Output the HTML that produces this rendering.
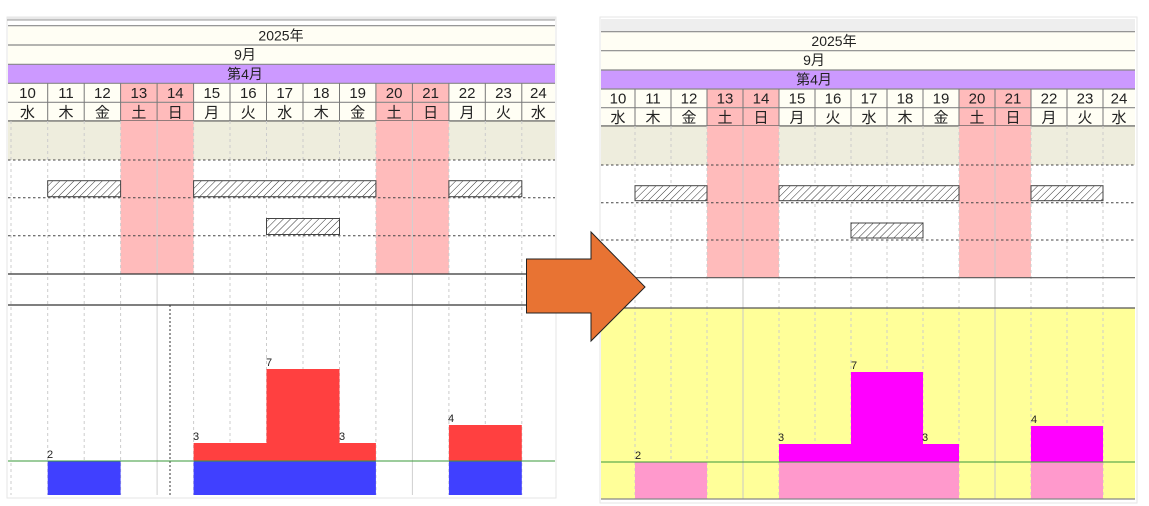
<!DOCTYPE html>
<html><head><meta charset="utf-8"><style>
html,body{margin:0;padding:0;background:#fff;width:1149px;height:506px;overflow:hidden}
svg{display:block}
text{font-family:"Liberation Sans","Noto Sans CJK JP",sans-serif;fill:#222}
</style></head><body>
<svg width="1149" height="506" viewBox="0 0 1149 506" xmlns="http://www.w3.org/2000/svg">
<defs>
<pattern id="h" width="5" height="5" patternUnits="userSpaceOnUse" patternTransform="rotate(45)">
<rect width="5" height="5" fill="#fff"/><line x1="0" y1="0" x2="0" y2="5" stroke="#333" stroke-width="1"/>
</pattern>
</defs>

<!-- ================= LEFT PANEL ================= -->
<rect x="7" y="17" width="549" height="481" fill="#fff" stroke="#e6e6e6"/>
<rect x="7" y="17" width="549" height="3" fill="#e8e8e8"/>
<line x1="7" y1="20" x2="555" y2="20" stroke="#999"/>
<rect x="8" y="25.7" width="547" height="19.3" fill="#fffef4"/>
<rect x="8" y="45" width="547" height="19.3" fill="#fffef4"/>
<rect x="8" y="64.3" width="547" height="19" fill="#cc99ff"/>
<rect x="8" y="83.3" width="547" height="37.7" fill="#fffef4"/>
<rect x="120.6" y="83.3" width="73" height="37.7" fill="#ffbbbb"/>
<rect x="375.9" y="83.3" width="73" height="37.7" fill="#ffbbbb"/>
<g stroke="#888" stroke-width="1.2">
<line x1="8" y1="25.7" x2="555" y2="25.7"/><line x1="8" y1="45" x2="555" y2="45"/>
<line x1="8" y1="64.3" x2="555" y2="64.3"/><line x1="8" y1="83.3" x2="555" y2="83.3"/>
<line x1="8" y1="102.3" x2="555" y2="102.3"/>
</g>
<line x1="8" y1="121" x2="555" y2="121" stroke="#555" stroke-width="1.3"/>
<g stroke="#777" stroke-width="1">
<line x1="47.7" y1="83.3" x2="47.7" y2="121"/><line x1="84.2" y1="83.3" x2="84.2" y2="121"/>
<line x1="120.6" y1="83.3" x2="120.6" y2="121"/><line x1="157.1" y1="83.3" x2="157.1" y2="121"/>
<line x1="193.6" y1="83.3" x2="193.6" y2="121"/><line x1="230" y1="83.3" x2="230" y2="121"/>
<line x1="266.5" y1="83.3" x2="266.5" y2="121"/><line x1="303" y1="83.3" x2="303" y2="121"/>
<line x1="339.5" y1="83.3" x2="339.5" y2="121"/><line x1="375.9" y1="83.3" x2="375.9" y2="121"/>
<line x1="412.4" y1="83.3" x2="412.4" y2="121"/><line x1="448.9" y1="83.3" x2="448.9" y2="121"/>
<line x1="485.3" y1="83.3" x2="485.3" y2="121"/><line x1="521.8" y1="83.3" x2="521.8" y2="121"/>
</g>
<g font-size="14" text-anchor="middle">
<text x="281" y="40.5">2025年</text><text x="245" y="59.5">9月</text><text x="245" y="79">第4月</text>
</g>
<g font-size="15" text-anchor="middle">
<text x="27.5" y="98">10</text><text x="66" y="98">11</text><text x="102.4" y="98">12</text><text x="138.9" y="98">13</text><text x="175.3" y="98">14</text><text x="211.8" y="98">15</text><text x="248.3" y="98">16</text><text x="284.7" y="98">17</text><text x="321.2" y="98">18</text><text x="357.7" y="98">19</text><text x="394.1" y="98">20</text><text x="430.6" y="98">21</text><text x="467.1" y="98">22</text><text x="503.5" y="98">23</text><text x="538.4" y="98">24</text>
<text x="27.5" y="117.5">水</text><text x="66" y="117.5">木</text><text x="102.4" y="117.5">金</text><text x="138.9" y="117.5">土</text><text x="175.3" y="117.5">日</text><text x="211.8" y="117.5">月</text><text x="248.3" y="117.5">火</text><text x="284.7" y="117.5">水</text><text x="321.2" y="117.5">木</text><text x="357.7" y="117.5">金</text><text x="394.1" y="117.5">土</text><text x="430.6" y="117.5">日</text><text x="467.1" y="117.5">月</text><text x="503.5" y="117.5">火</text><text x="538.4" y="117.5">水</text>
</g>
<rect x="8" y="121.5" width="547" height="38.5" fill="#eeeddd"/>
<rect x="120.6" y="121" width="73" height="153" fill="#ffbbbb"/>
<rect x="375.9" y="121" width="73" height="153" fill="#ffbbbb"/>
<g stroke="#ccc" stroke-dasharray="3,3">
<line x1="11" y1="121" x2="11" y2="495"/>
<line x1="47.7" y1="121" x2="47.7" y2="495"/><line x1="84.2" y1="121" x2="84.2" y2="495"/>
<line x1="120.6" y1="121" x2="120.6" y2="495"/><line x1="193.6" y1="121" x2="193.6" y2="495"/>
<line x1="230" y1="121" x2="230" y2="495"/><line x1="266.5" y1="121" x2="266.5" y2="495"/>
<line x1="303" y1="121" x2="303" y2="495"/><line x1="339.5" y1="121" x2="339.5" y2="495"/>
<line x1="375.9" y1="121" x2="375.9" y2="495"/><line x1="448.9" y1="121" x2="448.9" y2="495"/>
<line x1="485.3" y1="121" x2="485.3" y2="495"/><line x1="521.8" y1="121" x2="521.8" y2="495"/>
</g>
<g stroke="#d0d0d0"><line x1="157.1" y1="121" x2="157.1" y2="495"/><line x1="412.4" y1="121" x2="412.4" y2="495"/></g>
<g stroke="#444" stroke-dasharray="2.5,2.5">
<line x1="8" y1="160" x2="555" y2="160"/><line x1="8" y1="197.7" x2="555" y2="197.7"/><line x1="8" y1="235.7" x2="555" y2="235.7"/>
</g>
<g fill="url(#h)" stroke="#444">
<rect x="47.7" y="180.7" width="72.9" height="16"/><rect x="193.6" y="180.7" width="182.3" height="16"/>
<rect x="448.9" y="180.7" width="72.9" height="16"/><rect x="266.5" y="218.5" width="73" height="16"/>
</g>
<g stroke="#333" stroke-width="1.2"><line x1="8" y1="274" x2="555" y2="274"/><line x1="8" y1="305" x2="555" y2="305"/></g>
<line x1="170" y1="305" x2="170" y2="495" stroke="#333" stroke-dasharray="2,2"/>
<g fill="#ff4040">
<rect x="193.6" y="443" width="182.3" height="18"/><rect x="266.5" y="369" width="73" height="92"/><rect x="448.9" y="425" width="72.9" height="36"/>
</g>
<g fill="#4040ff">
<rect x="47.7" y="461" width="72.9" height="34"/><rect x="193.6" y="461" width="182.3" height="34"/><rect x="448.9" y="461" width="72.9" height="34"/>
</g>
<line x1="8" y1="461" x2="555" y2="461" stroke="#3a9a3a"/>
<g font-size="11"><text x="47" y="458">2</text><text x="193" y="440">3</text><text x="266" y="366">7</text><text x="339" y="440">3</text><text x="448" y="422">4</text></g>

<!-- ================= RIGHT PANEL ================= -->
<rect x="600" y="17" width="537" height="486" fill="#fff" stroke="#e6e6e6"/>
<rect x="601" y="19" width="534" height="12.7" fill="#eeeeee"/>
<rect x="601" y="31.7" width="534" height="19" fill="#fffef4"/>
<rect x="601" y="50.7" width="534" height="19.3" fill="#fffef4"/>
<rect x="601" y="70" width="534" height="19" fill="#cc99ff"/>
<rect x="601" y="89" width="534" height="37" fill="#fffef4"/>
<rect x="707" y="89" width="72" height="37" fill="#ffbbbb"/>
<rect x="959" y="89" width="72" height="37" fill="#ffbbbb"/>
<g stroke="#888" stroke-width="1.2">
<line x1="601" y1="31.7" x2="1135" y2="31.7"/><line x1="601" y1="50.7" x2="1135" y2="50.7"/>
<line x1="601" y1="70" x2="1135" y2="70"/><line x1="601" y1="89" x2="1135" y2="89"/>
<line x1="601" y1="107.7" x2="1135" y2="107.7"/>
</g>
<line x1="601" y1="126" x2="1135" y2="126" stroke="#555" stroke-width="1.3"/>
<g stroke="#777">
<line x1="635" y1="89" x2="635" y2="126"/><line x1="671" y1="89" x2="671" y2="126"/><line x1="707" y1="89" x2="707" y2="126"/>
<line x1="743" y1="89" x2="743" y2="126"/><line x1="779" y1="89" x2="779" y2="126"/><line x1="815" y1="89" x2="815" y2="126"/>
<line x1="851" y1="89" x2="851" y2="126"/><line x1="887" y1="89" x2="887" y2="126"/><line x1="923" y1="89" x2="923" y2="126"/>
<line x1="959" y1="89" x2="959" y2="126"/><line x1="995" y1="89" x2="995" y2="126"/><line x1="1031" y1="89" x2="1031" y2="126"/>
<line x1="1067" y1="89" x2="1067" y2="126"/><line x1="1103" y1="89" x2="1103" y2="126"/>
</g>
<g font-size="14" text-anchor="middle">
<text x="834" y="46">2025年</text><text x="814" y="65">9月</text><text x="814" y="84.5">第4月</text>
</g>
<g font-size="15" text-anchor="middle">
<text x="618" y="103.5">10</text><text x="653" y="103.5">11</text><text x="689" y="103.5">12</text><text x="725" y="103.5">13</text><text x="761" y="103.5">14</text><text x="797" y="103.5">15</text><text x="833" y="103.5">16</text><text x="869" y="103.5">17</text><text x="905" y="103.5">18</text><text x="941" y="103.5">19</text><text x="977" y="103.5">20</text><text x="1013" y="103.5">21</text><text x="1049" y="103.5">22</text><text x="1085" y="103.5">23</text><text x="1119" y="103.5">24</text>
<text x="618" y="122.5">水</text><text x="653" y="122.5">木</text><text x="689" y="122.5">金</text><text x="725" y="122.5">土</text><text x="761" y="122.5">日</text><text x="797" y="122.5">月</text><text x="833" y="122.5">火</text><text x="869" y="122.5">水</text><text x="905" y="122.5">木</text><text x="941" y="122.5">金</text><text x="977" y="122.5">土</text><text x="1013" y="122.5">日</text><text x="1049" y="122.5">月</text><text x="1085" y="122.5">火</text><text x="1119" y="122.5">水</text>
</g>
<rect x="601" y="126.5" width="534" height="38.5" fill="#eeeddd"/>
<rect x="707" y="126" width="72" height="151.7" fill="#ffbbbb"/>
<rect x="959" y="126" width="72" height="151.7" fill="#ffbbbb"/>
<rect x="601" y="308" width="534" height="191" fill="#ffff99"/>
<g stroke="#ccc" stroke-dasharray="3,3">
<line x1="635" y1="126" x2="635" y2="499"/><line x1="671" y1="126" x2="671" y2="499"/><line x1="707" y1="126" x2="707" y2="499"/>
<line x1="779" y1="126" x2="779" y2="499"/><line x1="815" y1="126" x2="815" y2="499"/>
<line x1="851" y1="126" x2="851" y2="499"/><line x1="887" y1="126" x2="887" y2="499"/><line x1="923" y1="126" x2="923" y2="499"/>
<line x1="959" y1="126" x2="959" y2="499"/><line x1="1031" y1="126" x2="1031" y2="499"/>
<line x1="1067" y1="126" x2="1067" y2="499"/><line x1="1103" y1="126" x2="1103" y2="499"/>
</g>
<g stroke="#c8c8c8"><line x1="743" y1="126" x2="743" y2="499"/><line x1="995" y1="126" x2="995" y2="499"/></g>
<g fill="#ff00ff">
<rect x="779" y="444" width="180" height="18"/><rect x="851" y="372" width="72" height="90"/><rect x="1031" y="426" width="72" height="36"/>
</g>
<g fill="#ff99cc">
<rect x="635" y="462" width="72" height="37"/><rect x="779" y="462" width="180" height="37"/><rect x="1031" y="462" width="72" height="37"/>
</g>
<g stroke="#444" stroke-dasharray="2.5,2.5">
<line x1="601" y1="165" x2="1135" y2="165"/><line x1="601" y1="202.7" x2="1135" y2="202.7"/><line x1="601" y1="240" x2="1135" y2="240"/>
</g>
<g fill="url(#h)" stroke="#444">
<rect x="635" y="185.7" width="72" height="15"/><rect x="779" y="185.7" width="180" height="15"/>
<rect x="1031" y="185.7" width="72" height="15"/><rect x="851" y="223" width="72" height="15"/>
</g>
<g stroke="#555" stroke-width="1.2"><line x1="601" y1="277.7" x2="1135" y2="277.7"/><line x1="601" y1="308" x2="1135" y2="308"/></g>
<line x1="601" y1="462" x2="1135" y2="462" stroke="#3a9a3a"/>
<line x1="601" y1="499" x2="1135" y2="499" stroke="#888" stroke-width="1.3"/>
<g font-size="11"><text x="635" y="459">2</text><text x="778" y="441">3</text><text x="851" y="369">7</text><text x="922" y="441">3</text><text x="1031" y="423">4</text></g>

<polygon points="526.5,259 591,259 591,232 645,287 591,341 591,313 526.5,313" fill="#e87333" stroke="#222" stroke-width="1"/>
</svg>
</body></html>
